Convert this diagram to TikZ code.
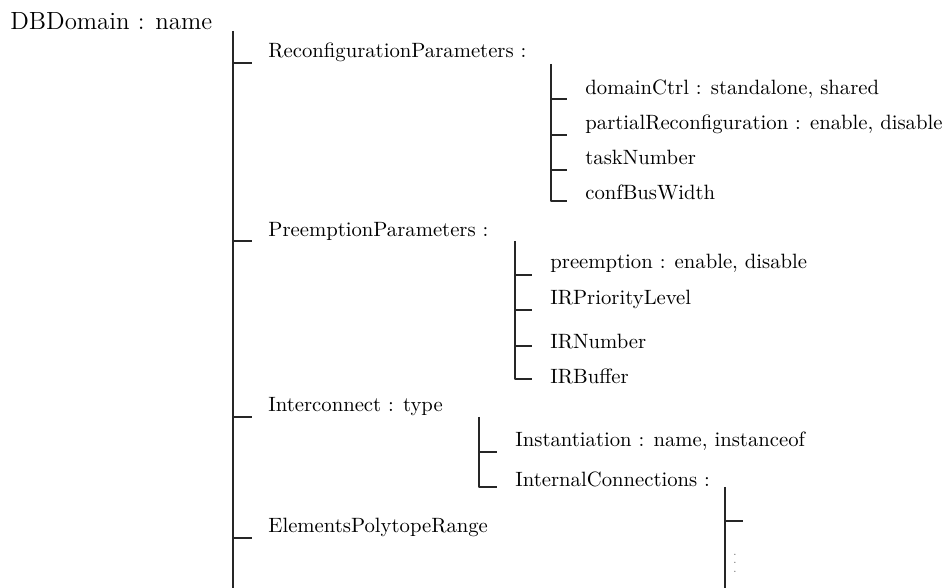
\documentclass[tikz,border=0pt]{standalone}
\usepackage{amsmath,amssymb}
\usepackage{tikz}
\tikzset{
  every picture/.style={line join=round, line cap=butt},
  item/.style={anchor=base west, inner sep=0pt},
  branch/.style={line width=0.5pt, draw=black!85},
}

\begin{document}
\begin{tikzpicture}[x=0.483pt,y=-0.483pt]
\useasboundingbox (0,0) rectangle (943,588);
% root
\node[item, font=\large] (root) at (10,30) {DBDomain : name};
\coordinate (trunk) at (233,31);
% first level
\node[item] (rp) at (268,58) {ReconfigurationParameters :};
\node[item] (pp) at (268,237) {PreemptionParameters :};
\node[item] (ic) at (268,412) {Interconnect : type};
\node[item] (epr) at (268,533) {ElementsPolytopeRange};
% reconfiguration
\coordinate (v1) at (551,64);
\node[item] (dc) at (585,95) {domainCtrl : standalone, shared};
\node[item] (pr) at (585,130) {partialReconfiguration : enable, disable};
\node[item] (tn) at (585,165) {taskNumber};
\node[item] (cbw) at (585,200) {confBusWidth};
% preemption
\coordinate (v2) at (515,241);
\node[item] (pre) at (550,269) {preemption : enable, disable};
\node[item] (irp) at (550,305) {IRPriorityLevel};
\node[item] (irn) at (550,349) {IRNumber};
\node[item] (irb) at (550,384) {IRBuffer};
% interconnect
\coordinate (v3) at (479,417);
\node[item] (inst) at (515,447) {Instantiation : name, instanceof};
\node[item] (intc) at (515,487) {InternalConnections :};
% internal connections
\coordinate (v4) at (725,487);
\coordinate (c1) at (743,521);
\node[inner sep=0pt, font=\tiny, text=black!60] (dots) at (735,557) {$\vdots$};

% tick ends
\foreach \n/\d in {rp/5,pp/4,ic/5,epr/5}
  \coordinate (\n-t) at ([shift={(-16,\d)}]\n.base west);
\foreach \n/\d in {dc/4,pr/5,tn/5,cbw/1,pre/6,irp/5,irn/-3,irb/-5,inst/5,intc/0}
  \coordinate (\n-t) at ([shift={(-18,\d)}]\n.base west);

\draw[branch] (trunk) -- (trunk |- 0,588);
\foreach \n in {rp,pp,ic,epr}
  \draw[branch] (trunk |- \n-t) -- (\n-t);
\draw[branch] (v1) |- (cbw-t);
\foreach \n in {dc,pr,tn}
  \draw[branch] (v1 |- \n-t) -- (\n-t);
\draw[branch] (v2) |- (irb-t);
\foreach \n in {pre,irp,irn}
  \draw[branch] (v2 |- \n-t) -- (\n-t);
\draw[branch] (v3) |- (intc-t);
\draw[branch] (v3 |- inst-t) -- (inst-t);
\draw[branch] (v4) -- (v4 |- 0,588);
\draw[branch] (v4 |- c1) -- (c1);
\end{tikzpicture}
\end{document}
